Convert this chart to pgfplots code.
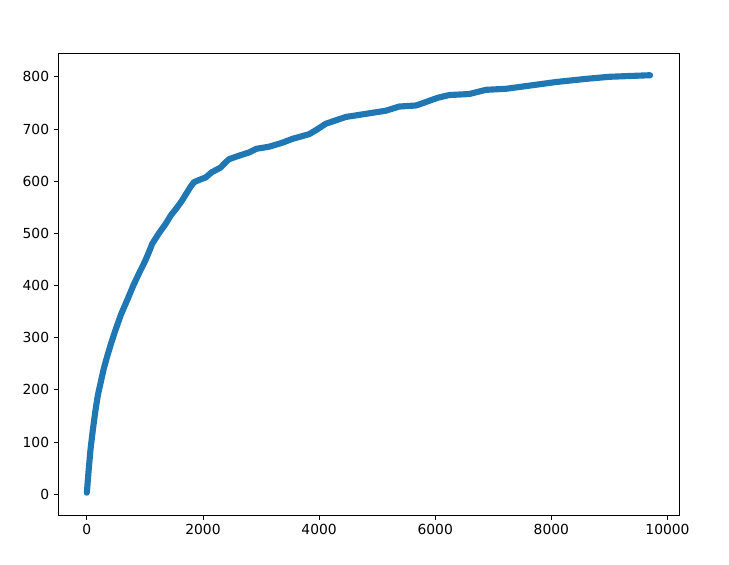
\documentclass[border=0pt]{standalone}
\usepackage{fontspec}
\setmainfont{DejaVu Sans}
\usepackage{pgfplots}
\pgfplotsset{compat=1.18}
\definecolor{mplblue}{HTML}{1F77B4}
\begin{document}
\begin{tikzpicture}
\path[use as bounding box] (-44pt,-37pt) rectangle (503pt,386.5pt);
\begin{axis}[
  at={(0,0)}, anchor=south west,
  scale only axis, width=466pt, height=346.5pt,
  xmin=-486, xmax=10210, ymin=-40, ymax=845,
  xtick={0,2000,4000,6000,8000,10000},
  ytick={0,100,200,300,400,500,600,700,800},
  scaled x ticks=false,
  xticklabel style={/pgf/number format/1000 sep={}},
  /pgf/number format/assume math mode=true,
  tick align=outside, xtick pos=bottom, ytick pos=left,
  major tick length=3.6pt,
  every tick/.style={black, line width=0.6pt},
  axis line style={line width=0.6pt},
  ticklabel style={font=\fontsize{10.4}{12}\selectfont},
]
\addplot[mplblue, line width=4.6pt, line cap=round, line join=round] coordinates {
(0,3) (30,45) (63,86) (105,125) (150,162) (190,190) (236,213) (290,240)
(350,264) (420,290) (494,315) (590,345) (695,372) (800,400) (897,423)
(1000,446) (1069,464) (1126,480) (1240,500) (1356,518) (1450,535)
(1557,550) (1640,563) (1729,579) (1790,590) (1845,598) (1950,603)
(2046,607) (2150,617) (2303,626) (2380,635) (2448,642) (2600,648)
(2793,655) (2919,662) (3138,666) (3350,673) (3540,681) (3828,690)
(3950,698) (4115,710) (4300,717) (4460,723) (4805,729)
(5150,735) (5379,743) (5667,745) (5800,750) (5897,754) (6050,760)
(6241,765) (6586,767) (6874,775) (7218,777) (7621,783) (8081,790)
(8598,796) (9000,800) (9700,803)
};
\end{axis}
\end{tikzpicture}
\end{document}
